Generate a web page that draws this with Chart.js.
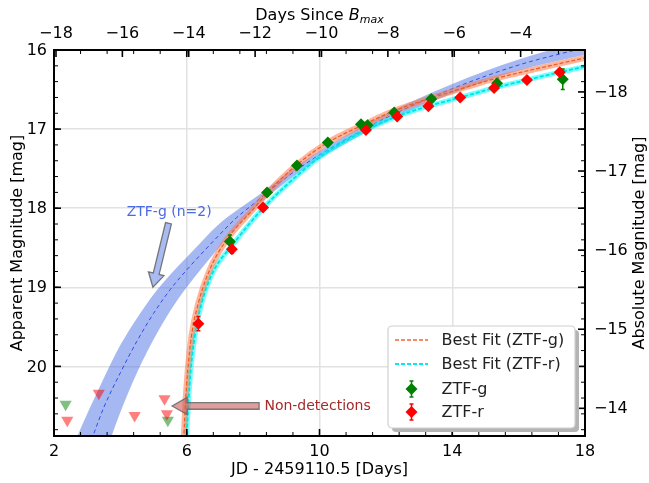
<!DOCTYPE html>
<html>
<head>
<meta charset="utf-8">
<script src="https://cdn.jsdelivr.net/npm/chart.js@4.4.1/dist/chart.umd.min.js"></script>
<style>
html,body{margin:0;padding:0;background:#fff}
canvas{display:block}
</style>
</head>
<body>
<canvas id="c" width="649" height="483"></canvas>
<script>
// detections (JD - 2459110.5, apparent mag, error)
const gJD=[7.30,8.42,9.32,10.25,11.25,11.45,12.25,13.37,15.35,17.33];
const gMag=[18.42,17.80,17.46,17.17,16.94,16.95,16.79,16.62,16.42,16.37];
const gErr=[0.08,0.04,0.03,0.03,0.03,0.03,0.03,0.03,0.04,0.13];
const rJD=[6.35,7.36,8.30,11.40,12.34,13.28,14.24,15.26,16.25,17.24];
const rMag=[19.46,18.52,17.99,17.01,16.84,16.71,16.60,16.48,16.38,16.28];
const rErr=[0.09,0.05,0.04,0.03,0.03,0.03,0.03,0.03,0.03,0.04];
// upper limits
const gLimJD=[2.35,5.43];
const gLimMag=[20.48,20.68];
const rLimJD=[2.40,3.35,4.43,5.33,5.40];
const rLimMag=[20.68,20.34,20.62,20.41,20.60];
// best fit curves
const gFitJD=[5.90,5.96,6.03,6.14,6.35,6.69,7.15,8.05,8.42,9.32,10.25,11.3,12.3,13.96,15.31,16.3,18.0];
const gFitMag=[21.0,20.47,20.05,19.62,19.20,18.78,18.43,17.99,17.81,17.45,17.17,16.95,16.76,16.53,16.36,16.26,16.10];
const rFitJD=[5.98,6.05,6.12,6.24,6.45,6.80,7.35,8.30,9.80,10.30,11.40,12.34,13.28,14.24,15.26,16.25,17.24,18.0];
const rFitMag=[21.0,20.47,20.05,19.62,19.20,18.80,18.48,18.00,17.42,17.27,17.01,16.84,16.71,16.60,16.48,16.38,16.28,16.21];
// ZTF-g n=2 model, centre and band edges
const n2JD=[2.6,3.0,3.2,3.5,4.0,4.5,5.0,5.5,6.0,7.0,7.5,8.0,8.4,9.3,10.3,12.0,14.0,16.0,18.0];
const n2Mag=[21.6,21.08,20.85,20.52,20.08,19.68,19.33,19.03,18.78,18.33,18.12,17.95,17.81,17.52,17.25,16.86,16.49,16.19,15.97];
const n2Lo=[20.98,20.60,20.42,20.15,19.73,19.39,19.09,18.84,18.62,18.19,18.03,17.885,17.76,17.47,17.20,16.81,16.43,16.12,15.88];
const n2Hi=[22.3,21.76,21.52,21.16,20.58,20.08,19.66,19.30,19.00,18.48,18.24,18.02,17.87,17.57,17.30,16.91,16.55,16.26,16.06];

const xTicks=[2,6,10,14,18];
const yTicks=[16,17,18,19,20];
const topTicks=[-18,-16,-14,-12,-10,-8,-6,-4];
const rightTicks=[-18,-17,-16,-15,-14];

const DM=34.53;   // distance modulus
const TB=20.06;   // B max in JD - 2459110.5
const XMIN=2, XMAX=18, YMIN=16, YMAX=20.88;

const FONT='DejaVu Sans';
const pts=(xs,ys)=>xs.map((v,i)=>({x:v,y:ys[i]}));
const minus=v=>String(v).replace('-','\u2212');

const deco={
  id:'deco',
  beforeDatasetDraw(chart,args){
    const ds=chart.data.datasets[args.index];
    if(!ds.errs) return;
    const ctx=chart.ctx,sx=chart.scales.x,sy=chart.scales.y;
    ctx.save();
    ctx.strokeStyle=ds.backgroundColor;ctx.lineWidth=1.5;
    ds.data.forEach((p,i)=>{
      const px=sx.getPixelForValue(p.x);
      const y1=sy.getPixelForValue(p.y-ds.errs[i]),y2=sy.getPixelForValue(p.y+ds.errs[i]);
      ctx.beginPath();
      ctx.moveTo(px,y1);ctx.lineTo(px,y2);
      ctx.moveTo(px-2,y1);ctx.lineTo(px+2,y1);
      ctx.moveTo(px-2,y2);ctx.lineTo(px+2,y2);
      ctx.stroke();
    });
    ctx.restore();
  },
  afterDatasetsDraw(chart){
    const ctx=chart.ctx,a=chart.chartArea;
    const sx=chart.scales.x,sy=chart.scales.y,st=chart.scales.xTop,sr=chart.scales.yR;
    const X=v=>sx.getPixelForValue(v),Y=v=>sy.getPixelForValue(v);

    // annotation arrows
    function arrow(x1,y1,x2,y2,sw,hw,hl,fill){
      const dx=x2-x1,dy=y2-y1,L=Math.hypot(dx,dy),ux=dx/L,uy=dy/L,nx=-uy,ny=ux;
      const bx=x2-ux*hl,by=y2-uy*hl;
      ctx.beginPath();
      ctx.moveTo(x1+nx*sw,y1+ny*sw);
      ctx.lineTo(bx+nx*sw,by+ny*sw);
      ctx.lineTo(bx+nx*hw,by+ny*hw);
      ctx.lineTo(x2,y2);
      ctx.lineTo(bx-nx*hw,by-ny*hw);
      ctx.lineTo(bx-nx*sw,by-ny*sw);
      ctx.lineTo(x1-nx*sw,y1-ny*sw);
      ctx.closePath();
      ctx.fillStyle=fill;ctx.fill();
      ctx.strokeStyle='rgba(100,100,100,0.85)';ctx.lineWidth=1.3;ctx.stroke();
    }
    ctx.save();
    arrow(X(5.45),Y(18.19),X(4.98),Y(19.0),3,8,14,'rgba(65,105,225,0.45)');
    arrow(X(8.18),Y(20.5),X(5.56),Y(20.5),3.3,8.5,15,'rgba(205,92,92,0.6)');
    ctx.font='14px '+FONT;ctx.textBaseline='middle';
    ctx.fillStyle='rgb(75,105,225)';ctx.textAlign='center';
    ctx.fillText('ZTF-g (n=2)',X(5.47),Y(18.05));
    ctx.fillStyle='#a52a2a';ctx.textAlign='left';
    ctx.fillText('Non-detections',X(8.34),Y(20.5));

    // spines and inward ticks
    ctx.strokeStyle='#000';
    const tick=(px,side,len,w)=>{
      ctx.lineWidth=w;ctx.beginPath();
      if(side==='b'){ctx.moveTo(px,a.bottom);ctx.lineTo(px,a.bottom-len);}
      if(side==='t'){ctx.moveTo(px,a.top);ctx.lineTo(px,a.top+len);}
      if(side==='l'){ctx.moveTo(a.left,px);ctx.lineTo(a.left+len,px);}
      if(side==='r'){ctx.moveTo(a.right,px);ctx.lineTo(a.right-len,px);}
      ctx.stroke();
    };
    for(let k=0;k<=20;k++){const v=XMIN+k*0.8;if(v>XMAX+1e-6)break;tick(X(v),'b',4,1);tick(X(v),'t',4,1);}
    for(let k=0;k<=30;k++){const v=YMIN+k*0.2;if(v>YMAX)break;tick(Y(v),'l',4,1);tick(Y(v),'r',4,1);}
    xTicks.forEach(v=>{tick(X(v),'b',7,1.6);tick(X(v),'t',7,1.6);});
    yTicks.forEach(v=>{tick(Y(v),'l',7,1.6);tick(Y(v),'r',7,1.6);});
    topTicks.forEach(v=>tick(st.getPixelForValue(v),'t',7,1.6));
    rightTicks.forEach(v=>tick(sr.getPixelForValue(v),'r',7,1.6));
    ctx.lineWidth=2;
    ctx.strokeRect(a.left,a.top,a.right-a.left,a.bottom-a.top);

    // tick labels
    ctx.fillStyle='#000';ctx.font='16px '+FONT;ctx.textBaseline='middle';
    ctx.textAlign='center';
    xTicks.forEach(v=>ctx.fillText(minus(v),X(v),a.bottom+16));
    topTicks.forEach(v=>ctx.fillText(minus(v),st.getPixelForValue(v),a.top-16));
    ctx.textAlign='right';
    yTicks.forEach(v=>ctx.fillText(minus(v),a.left-7,Y(v)+1));
    ctx.textAlign='left';
    rightTicks.forEach(v=>ctx.fillText(minus(v),a.right+9,sr.getPixelForValue(v)+1));

    // axis titles
    ctx.fillStyle='#000';ctx.font='16px '+FONT;ctx.textAlign='center';ctx.textBaseline='middle';
    const cx=(a.left+a.right)/2,cy=(a.top+a.bottom)/2;
    ctx.fillText('JD - 2459110.5 [Days]',cx,470);
    ctx.save();ctx.translate(18,cy);ctx.rotate(-Math.PI/2);ctx.fillText('Apparent Magnitude [mag]',0,0);ctx.restore();
    ctx.save();ctx.translate(640,cy);ctx.rotate(-Math.PI/2);ctx.fillText('Absolute Magnitude [mag]',0,0);ctx.restore();
    // top title with italic B and subscript
    ctx.textAlign='left';ctx.textBaseline='alphabetic';
    const t1='Days Since ',t2='B',t3='max';
    ctx.font='16px '+FONT;const w1=ctx.measureText(t1).width;
    ctx.font='italic 16px '+FONT;const w2=ctx.measureText(t2).width;
    ctx.font='italic 11px '+FONT;const w3=ctx.measureText(t3).width;
    let tx=cx-(w1+w2+w3)/2;const ty=20;
    ctx.font='16px '+FONT;ctx.fillText(t1,tx,ty);tx+=w1;
    ctx.font='italic 16px '+FONT;ctx.fillText(t2,tx,ty);tx+=w2;
    ctx.font='italic 11px '+FONT;ctx.fillText(t3,tx,ty+3);

    // legend
    const lx=388,ly=326,lw=187,lh=102,r=4;
    const rr=(x,y,w,h)=>{ctx.beginPath();ctx.moveTo(x+r,y);ctx.arcTo(x+w,y,x+w,y+h,r);ctx.arcTo(x+w,y+h,x,y+h,r);ctx.arcTo(x,y+h,x,y,r);ctx.arcTo(x,y,x+w,y,r);ctx.closePath();};
    rr(lx+4,ly+4,lw,lh);ctx.fillStyle='#b4b4b4';ctx.fill();
    rr(lx,ly,lw,lh);ctx.fillStyle='#fff';ctx.fill();ctx.strokeStyle='#cfcfcf';ctx.lineWidth=1.2;ctx.stroke();
    const rows=[340,364,389,412];
    ctx.lineWidth=1.3;ctx.setLineDash([4,2]);ctx.strokeStyle='rgb(240,100,55)';
    ctx.beginPath();ctx.moveTo(395,rows[0]);ctx.lineTo(428,rows[0]);ctx.stroke();
    ctx.lineWidth=2;ctx.strokeStyle='rgb(0,235,235)';
    ctx.beginPath();ctx.moveTo(395,rows[1]);ctx.lineTo(428,rows[1]);ctx.stroke();
    ctx.setLineDash([]);
    [['green',rows[2]],['red',rows[3]]].forEach(([c,yy])=>{
      ctx.strokeStyle=c;ctx.lineWidth=1.5;ctx.beginPath();
      ctx.moveTo(411.5,yy-8);ctx.lineTo(411.5,yy+8);
      ctx.moveTo(409.5,yy-8);ctx.lineTo(413.5,yy-8);ctx.moveTo(409.5,yy+8);ctx.lineTo(413.5,yy+8);ctx.stroke();
      ctx.fillStyle=c;ctx.beginPath();ctx.moveTo(411.5,yy-6);ctx.lineTo(417.5,yy);ctx.lineTo(411.5,yy+6);ctx.lineTo(405.5,yy);ctx.closePath();ctx.fill();
    });
    ctx.fillStyle='#222';ctx.font='16px '+FONT;ctx.textAlign='left';ctx.textBaseline='middle';
    ['Best Fit (ZTF-g)','Best Fit (ZTF-r)','ZTF-g','ZTF-r'].forEach((s,i)=>ctx.fillText(s,441.5,rows[i]+1));
    ctx.restore();
  }
};

const lineDs=(data,color,width,dash,order)=>({data,showLine:true,pointRadius:0,borderColor:color,backgroundColor:color,
  borderWidth:width,borderDash:dash,cubicInterpolationMode:'monotone',fill:false,clip:0,order,borderJoinStyle:'round'});

const setTicks=arr=>s=>{s.ticks=arr.map(v=>({value:v}));};
const noLabels={display:false};

new Chart(document.getElementById('c'),{
  type:'scatter',
  data:{datasets:[
    lineDs(pts(n2JD,n2Lo),'rgba(0,0,0,0)',0,[],20),
    Object.assign(lineDs(pts(n2JD,n2Hi),'rgba(0,0,0,0)',0,[],19),{fill:{target:0},backgroundColor:'rgba(65,105,225,0.47)'}),
    lineDs(pts(n2JD,n2Mag),'rgb(50,75,230)',1,[4,3],18),
    lineDs(pts(rFitJD,rFitMag),'rgba(0,255,255,0.55)',5,[],17),
    lineDs(pts(gFitJD,gFitMag),'rgba(255,120,70,0.55)',6,[],16),
    lineDs(pts(rFitJD,rFitMag),'rgb(0,225,225)',1.8,[4,2],15),
    lineDs(pts(gFitJD,gFitMag),'rgb(235,90,40)',1.2,[4,2],14),
    {data:pts(gLimJD,gLimMag),pointStyle:'triangle',pointRotation:180,pointRadius:7,pointBorderWidth:0,
      backgroundColor:'rgba(0,128,0,0.5)',borderColor:'rgba(0,0,0,0)',clip:0,order:12},
    {data:pts(rLimJD,rLimMag),pointStyle:'triangle',pointRotation:180,pointRadius:7,pointBorderWidth:0,
      backgroundColor:'rgba(255,0,0,0.5)',borderColor:'rgba(0,0,0,0)',clip:0,order:11},
    {data:pts(gJD,gMag),errs:gErr,pointStyle:'rectRot',pointRadius:6,pointBorderWidth:0,
      backgroundColor:'green',borderColor:'green',order:2},
    {data:pts(rJD,rMag),errs:rErr,pointStyle:'rectRot',pointRadius:6,pointBorderWidth:0,
      backgroundColor:'red',borderColor:'red',order:1}
  ]},
  options:{
    responsive:false,animation:false,events:[],devicePixelRatio:1,
    layout:{padding:0},
    plugins:{legend:{display:false},tooltip:{enabled:false}},
    scales:{
      x:{type:'linear',position:'bottom',min:XMIN,max:XMAX,afterBuildTicks:setTicks(xTicks),afterFit:s=>{s.height=47;},
        grid:{color:'#e2e2e2',lineWidth:1.5,drawTicks:false},border:{display:false},ticks:noLabels},
      xTop:{type:'linear',position:'top',min:XMIN-TB,max:XMAX-TB,afterBuildTicks:setTicks(topTicks),afterFit:s=>{s.height=50;},
        grid:{display:false},border:{display:false},ticks:noLabels},
      y:{type:'linear',position:'left',reverse:true,min:YMIN,max:YMAX,afterBuildTicks:setTicks(yTicks),afterFit:s=>{s.width=54;},
        grid:{color:'#e2e2e2',lineWidth:1.5,drawTicks:false},border:{display:false},ticks:noLabels},
      yR:{type:'linear',position:'right',reverse:true,min:YMIN-DM,max:YMAX-DM,afterBuildTicks:setTicks(rightTicks),afterFit:s=>{s.width=64;},
        grid:{display:false},border:{display:false},ticks:noLabels}
    }
  },
  plugins:[deco]
});
</script>
</body>
</html>
